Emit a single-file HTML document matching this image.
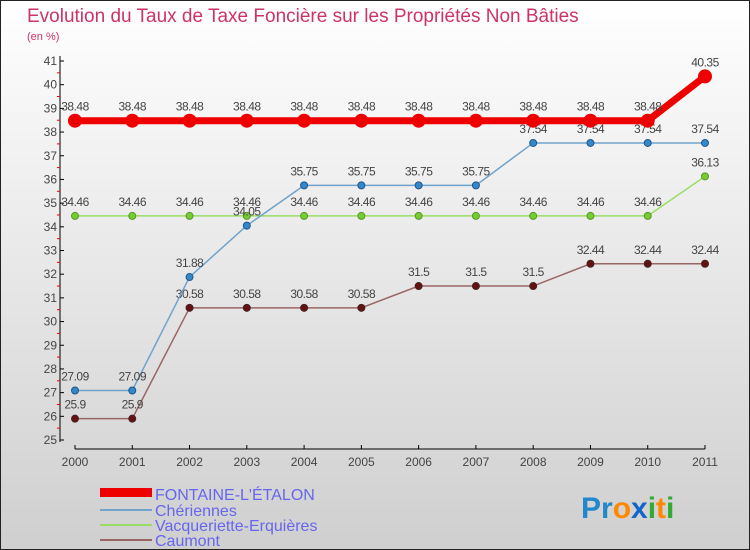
<!DOCTYPE html>
<html><head><meta charset="utf-8"><style>
body{margin:0}
#c{width:750px;height:550px;position:relative;overflow:hidden;font-family:"Liberation Sans",sans-serif}
</style></head><body>
<div id="c">
<svg id="s" width="750" height="550" xmlns="http://www.w3.org/2000/svg">
<defs><linearGradient id="bg" x1="0" y1="0" x2="0" y2="1"><stop offset="0" stop-color="#ffffff"/><stop offset="1" stop-color="#cfcfcf"/></linearGradient></defs>
<rect x="0.5" y="0.5" width="749" height="549" fill="url(#bg)" stroke="#222"/>
<text x="27" y="22" font-size="19" fill="#cc3366">Evolution du Taux de Taxe Foncière sur les Propriétés Non Bâties</text>
<text x="27" y="40" font-size="11" fill="#cc3366">(en %)</text>
<g id="axes"></g><g id="series"></g>
<g>
<rect x="100" y="488" width="52" height="9" fill="#ee0000"/>
<text x="155" y="500" font-size="16" fill="#6666ee">FONTAINE-L'ÉTALON</text>
<rect x="100" y="509" width="52" height="2" fill="#6fa3cc"/>
<text x="155" y="516" font-size="16" fill="#6666ee">Chériennes</text>
<rect x="100" y="524" width="52" height="2" fill="#99dd66"/>
<text x="155" y="531" font-size="16" fill="#6666ee">Vacqueriette-Erquières</text>
<rect x="100" y="539" width="52" height="2" fill="#996666"/>
<text x="155" y="546" font-size="16" fill="#6666ee">Caumont</text>
</g>
<g font-size="30" font-weight="bold">
<text x="581" y="518"><tspan fill="#2288cc">Pr</tspan><tspan fill="#ff8800">o</tspan><tspan fill="#1166cc">x</tspan><tspan fill="#33aa33">i</tspan><tspan fill="#ff8800">t</tspan><tspan fill="#33aa33">i</tspan></text>
</g>
</svg>
</div>
<script>
const years=["2000","2001","2002","2003","2004","2005","2006","2007","2008","2009","2010","2011"];
const yTicks=[25,26,27,28,29,30,31,32,33,34,35,36,37,38,39,40,41];
const fontaine=[38.48,38.48,38.48,38.48,38.48,38.48,38.48,38.48,38.48,38.48,38.48,40.35];
const cheriennes=[27.09,27.09,31.88,34.05,35.75,35.75,35.75,35.75,37.54,37.54,37.54,37.54];
const vacqueriette=[34.46,34.46,34.46,34.46,34.46,34.46,34.46,34.46,34.46,34.46,34.46,36.13];
const caumont=[25.9,25.9,30.58,30.58,30.58,30.58,31.5,31.5,31.5,32.44,32.44,32.44];
const NS="http://www.w3.org/2000/svg";
const X=i=>75+i*(705-75)/11;
const Y=v=>440-(v-25)*(440-61)/16;
function mk(t,a,p){const e=document.createElementNS(NS,t);for(const k in a)e.setAttribute(k,a[k]);p.appendChild(e);return e;}
const ax=document.getElementById('axes');
let yl=mk('line',{x1:60,y1:56,x2:60,y2:442,stroke:'#000'},ax);


yTicks.forEach(v=>{
  mk('line',{x1:60,y1:Y(v),x2:64,y2:Y(v),stroke:'#000'},ax);
  if(v<41)mk('line',{x1:57,y1:Y(v+0.5),x2:60,y2:Y(v+0.5),stroke:'#e00'},ax);
  const t=mk('text',{x:57,y:Y(v)+4,'font-size':12,fill:'#444','text-anchor':'end'},ax);
  t.textContent=v;
  
  
});
let xl=mk('line',{x1:75,y1:449,x2:705,y2:449,stroke:'#000'},ax);


years.forEach((y,i)=>{
  mk('line',{x1:X(i),y1:445,x2:X(i),y2:449,stroke:'#000'},ax);
  const t=mk('text',{x:X(i),y:466,'font-size':12,fill:'#444','text-anchor':'middle'},ax);
  t.textContent=y;
  
  
});
const sg=document.getElementById('series');
function series(data,name,color,w,r,stroke,fill){
  const g=mk('g',{},sg);
  
  
  mk('polyline',{points:data.map((v,i)=>X(i)+','+Y(v)).join(' '),fill:'none',stroke:color,'stroke-width':w},g);
  data.forEach((v,i)=>{
    const c=mk('circle',{cx:X(i),cy:Y(v),r:r,fill:fill,stroke:stroke},g);
    
    
    const t=mk('text',{x:X(i),y:Y(v)-10,'font-size':12,fill:'#444','text-anchor':'middle','letter-spacing':'-0.5'},g);
    t.textContent=v;
    
    
  });
}
series(caumont,'caumont','#996666',1.5,3.5,'#442222','#661111');
series(vacqueriette,'vacqueriette','#99dd66',1.5,3.5,'#559922','#77cc33');
series(cheriennes,'cheriennes','#6fa3cc',1.5,3.5,'#225588','#3388cc');
series(fontaine,'fontaine','#ee0000',7,6.5,'#ee0000','#ee0000');
</script>
</body></html>
